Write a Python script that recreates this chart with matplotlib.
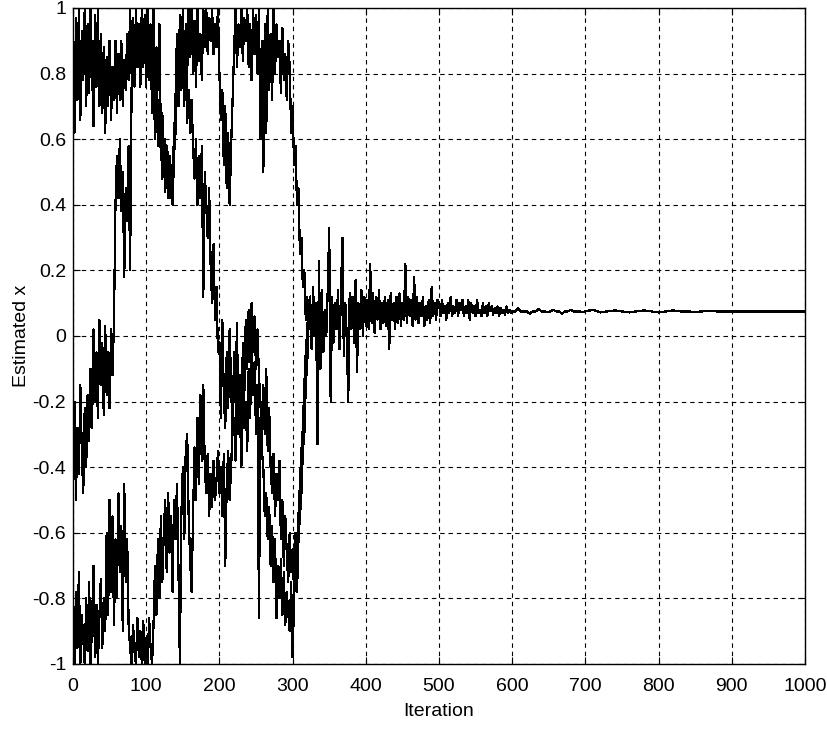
import numpy as np
import matplotlib
matplotlib.use("Agg")
import matplotlib.pyplot as plt
from matplotlib import font_manager

# ---- data (iterations 0..324 step 2 for the three early estimate strands) ----
strand_top = [
    0.85, 0.62, 0.97, 0.72, 1.00, 0.66, 0.93, 0.78, 1.00, 0.70,
    0.95, 0.74, 1.00, 0.82, 0.64, 0.98, 0.76, 1.00, 0.70, 0.92,
    0.68, 0.88, 0.62, 0.85, 0.70, 0.90, 0.66, 0.82, 0.72, 0.90,
    0.68, 0.86, 0.72, 0.90, 0.70, 0.84, 0.75, 0.92, 0.78, 1.00,
    0.80, 0.97, 0.76, 1.00, 0.85, 0.95, 0.78, 1.00, 0.82, 0.98,
    0.76, 1.00, 0.80, 0.92, 0.68, 0.85, 0.60, 0.78, 0.58, 0.72,
    0.55, 0.68, 0.50, 0.60, 0.45, 0.56, 0.42, 0.52, 0.40, 0.55,
    0.62, 0.80, 0.72, 0.95, 0.78, 1.00, 0.75, 0.92, 0.80, 1.00,
    0.85, 1.00, 0.80, 0.96, 0.76, 1.00, 0.84, 0.92, 0.78, 1.00,
    0.88, 1.00, 0.86, 0.97, 0.90, 1.00, 0.86, 0.95, 0.88, 1.00,
    0.80, 0.66, 0.75, 0.52, 0.70, 0.45, 0.62, 0.40, 0.58, 0.72,
    0.85, 1.00, 0.82, 0.95, 0.88, 1.00, 0.84, 0.97, 0.90, 1.00,
    0.82, 0.95, 0.78, 1.00, 0.86, 0.98, 0.80, 1.00, 0.60, 0.90,
    0.50, 0.95, 0.62, 1.00, 0.75, 0.92, 0.72, 1.00, 0.80, 0.95,
    0.85, 0.90, 0.74, 0.94, 0.78, 0.86, 0.72, 0.90, 0.82, 0.62,
    0.70, 0.52, 0.58, 0.40, 0.45, 0.25, 0.30, 0.15, 0.20, 0.05,
    0.12, 0.02, 0.10,
]
strand_mid = [
    -0.45, -0.20, -0.50, -0.28, -0.42, -0.15, -0.35, -0.48, -0.22, -0.40,
    -0.18, -0.32, -0.10, -0.28, 0.02, -0.20, -0.05, -0.25, 0.05, -0.15,
    -0.02, -0.24, 0.03, -0.18, -0.05, -0.22, 0.02, -0.12, 0.05, 0.40,
    0.55, 0.42, 0.60, 0.38, 0.50, 0.18, 0.45, 0.35, 0.58, 0.20,
    0.75, 0.95, 0.78, 1.00, 0.82, 0.90, 0.76, 1.00, 0.85, 0.94,
    0.80, 1.00, 0.78, 0.95, 0.82, 1.00, 0.76, 0.88, 0.75, 0.95,
    0.60, 0.48, 0.56, 0.44, 0.58, 0.42, 0.55, 0.46, 0.52, 0.60,
    0.72, 0.92, 0.70, 0.98, 0.75, 0.88, 0.70, 0.95, 0.65, 0.75,
    0.62, 0.72, 0.58, 0.48, 0.60, 0.40, 0.55, 0.42, 0.58, 0.12,
    0.50, 0.40, 0.30, 0.45, 0.22, 0.10, 0.28, 0.05, 0.15, -0.05,
    -0.02, -0.25, 0.05, -0.18, -0.28, -0.05, -0.22, 0.02, -0.15, -0.30,
    -0.05, -0.20, 0.04, -0.30, -0.12, -0.35, -0.02, -0.18, 0.05, -0.10,
    0.08, -0.08, 0.10, -0.05, 0.06, -0.10, 0.02, -0.12, -0.20, -0.32,
    -0.15, -0.30, -0.10, -0.35, -0.22, -0.40, -0.48, -0.36, -0.55, -0.42,
    -0.50, -0.38, -0.62, -0.50, -0.70, -0.55, -0.66, -0.75, -0.60, -0.72,
    -0.65, -0.78, -0.60, -0.70, -0.55, -0.45, -0.35, -0.28, -0.15, -0.05,
    0.02, 0.10, 0.05,
]
strand_low = [
    -0.90, -1.00, -0.78, -0.95, -0.72, -1.00, -0.85, -0.92, -1.00, -0.80,
    -0.96, -0.75, -1.00, -0.88, -0.70, -0.98, -0.82, -1.00, -0.86, -0.74,
    -0.95, -0.80, -0.90, -0.60, -0.85, -0.50, -0.78, -0.55, -0.88, -0.62,
    -0.80, -0.48, -0.72, -0.58, -0.90, -0.45, -0.75, -0.62, -0.88, -0.95,
    -1.00, -0.88, -0.96, -1.00, -0.86, -0.98, -0.90, -1.00, -0.87, -1.00,
    -0.92, -1.00, -0.86, -0.95, -1.00, -0.88, -0.70, -0.85, -0.62, -0.80,
    -0.55, -0.75, -0.60, -0.50, -0.72, -0.48, -0.66, -0.55, -0.78, -0.50,
    -0.62, -0.45, -0.70, -1.00, -0.55, -0.40, -0.62, -0.35, -0.30, -0.55,
    -0.68, -0.78, -0.55, -0.34, -0.50, -0.25, -0.45, -0.18, -0.38, -0.15,
    -0.40, -0.48, -0.36, -0.55, -0.42, -0.52, -0.38, -0.50, -0.44, -0.35,
    -0.48, -0.40, -0.55, -0.36, -0.70, -0.45, -0.35, -0.50, -0.40, -0.28,
    -0.25, -0.38, -0.15, -0.30, -0.22, -0.40, -0.12, -0.28, -0.20, -0.35,
    -0.10, -0.25, 0.00, -0.18, -0.08, -0.30, -0.15, -0.86, -0.25, -0.35,
    -0.40, -0.55, -0.48, -0.62, -0.52, -0.70, -0.58, -0.75, -0.62, -0.86,
    -0.70, -0.80, -0.68, -0.85, -0.72, -0.88, -0.78, -0.84, -0.90, -0.75,
    -0.98, -0.80, -0.70, -0.78, -0.62, -0.55, -0.48, -0.35, -0.30, -0.15,
    -0.08, 0.05, 0.08,
]
early_step = 2

# converged estimate: 324..598 step 2, 600..696 step 4, 700..1000 step 10
tail_fine = [
    0.12, -0.04, 0.15, 0.00, 0.10, -0.33, 0.23, -0.10, 0.14, -0.05,
    0.08, 0.00, 0.14, 0.33, -0.20, 0.12, -0.02, 0.10, 0.02, 0.14,
    -0.04, 0.12, 0.30, -0.06, 0.10, 0.00, -0.20, 0.13, 0.02, 0.12,
    -0.02, 0.17, -0.11, 0.10, 0.02, 0.14, 0.00, 0.12, 0.03, 0.11,
    0.02, 0.22, 0.04, 0.13, 0.01, 0.12, 0.05, 0.14, 0.02, 0.10,
    0.04, 0.12, 0.03, 0.11, -0.04, 0.13, 0.05, 0.10, 0.02, 0.12,
    0.04, 0.13, 0.03, 0.10, 0.05, 0.22, 0.04, 0.12, 0.06, 0.11,
    0.03, 0.18, 0.05, 0.12, 0.04, 0.10, 0.06, 0.12, 0.03, 0.09,
    0.05, 0.11, 0.04, 0.15, 0.06, 0.10, 0.05, 0.11,
    0.10, 0.06, 0.11, 0.07, 0.09, 0.05, 0.10, 0.07, 0.12, 0.06,
    0.09, 0.07, 0.11, 0.06, 0.10, 0.08, 0.11, 0.06, 0.09, 0.07,
    0.11, 0.05, 0.10, 0.07, 0.09, 0.06, 0.11, 0.07, 0.08, 0.06,
    0.10, 0.07, 0.09, 0.06, 0.10, 0.075, 0.09, 0.065, 0.085, 0.07,
    0.09, 0.06, 0.085, 0.07, 0.08, 0.065, 0.09, 0.07, 0.08, 0.07,
]
tail_mid = [
    0.075, 0.075, 0.085, 0.075, 0.075, 0.075, 0.068, 0.075, 0.075, 0.083,
    0.075, 0.075, 0.072, 0.075, 0.08, 0.075, 0.075, 0.068, 0.075, 0.075,
    0.08, 0.075, 0.075, 0.075, 0.072,
]
tail_coarse = [
    0.075, 0.08, 0.072, 0.075, 0.078, 0.075, 0.072, 0.075, 0.078, 0.075,
    0.072, 0.075, 0.078, 0.075, 0.075, 0.073, 0.075, 0.077, 0.075, 0.075,
    0.075, 0.075, 0.075, 0.075, 0.075, 0.075, 0.075, 0.075, 0.075, 0.075,
    0.075,
]

x_ticks = [0, 100, 200, 300, 400, 500, 600, 700, 800, 900, 1000]
y_ticks = [-1, -0.8, -0.6, -0.4, -0.2, 0, 0.2, 0.4, 0.6, 0.8, 1]
y_tick_labels = ["-1", "-0.8", "-0.6", "-0.4", "-0.2", "0", "0.2", "0.4", "0.6", "0.8", "1"]
x_label = "Iteration"
y_label = "Estimated x"

# ---- fonts ----
available = {f.name for f in font_manager.fontManager.ttflist}
if 'Liberation Sans Narrow' in available:
    tick_family, tick_size = ['Liberation Sans Narrow', 'DejaVu Sans'], 15
else:
    tick_family, tick_size = ['Liberation Sans', 'DejaVu Sans'], 14
plt.rcParams['font.family'] = ['Liberation Sans', 'DejaVu Sans']

# ---- plotting ----
fig = plt.figure(figsize=(8.27, 7.29), dpi=100)
ax = fig.add_axes([73 / 827, 65 / 729, (805 - 73) / 827, (664 - 8) / 729])

for s in (strand_top, strand_mid, strand_low):
    xs = np.arange(len(s)) * early_step
    ax.plot(xs, s, color='black', linewidth=0.9, antialiased=False, zorder=3)

x_tail = np.concatenate([
    324 + np.arange(len(tail_fine)) * 2,
    600 + np.arange(len(tail_mid)) * 4,
    700 + np.arange(len(tail_coarse)) * 10,
])
y_tail = np.array(tail_fine + tail_mid + tail_coarse)
ax.plot(x_tail, y_tail, color='black', linewidth=0.9, antialiased=False, zorder=3)

ax.set_xlim(0, 1000)
ax.set_ylim(-1, 1)
ax.set_xticks(x_ticks)
ax.set_xticklabels([str(t) for t in x_ticks])
ax.set_yticks(y_ticks)
ax.set_yticklabels(y_tick_labels)
ax.tick_params(axis='x', pad=10)
ax.tick_params(axis='y', pad=5)
ax.tick_params(direction='in', length=5, width=0.8, top=True, right=True,
               colors='black')
for lab in ax.get_xticklabels() + ax.get_yticklabels():
    lab.set_family(tick_family)
    lab.set_fontsize(tick_size)
ax.grid(True, color='black', linestyle=(0, (4, 3.5)), linewidth=0.8)
ax.set_axisbelow(True)
for sp in ax.spines.values():
    sp.set_linewidth(1.0)
    sp.set_color('black')
ax.set_xlabel(x_label, fontsize=tick_size, family=tick_family, labelpad=6)
ax.set_ylabel(y_label, fontsize=tick_size, family=tick_family, labelpad=2)

fig.savefig("out.png", dpi=100, facecolor='white')
